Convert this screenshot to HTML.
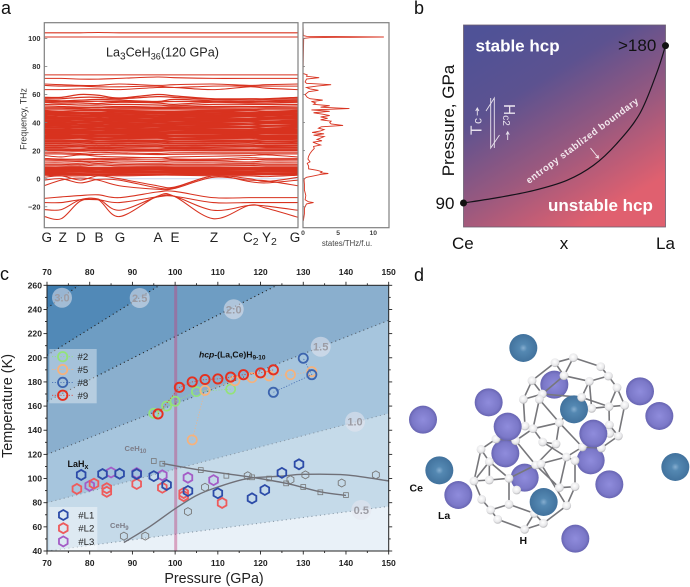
<!DOCTYPE html>
<html lang="en">
<head>
<meta charset="utf-8">
<title>La3CeH36 phonons, hcp stability and Tc figure</title>
<style>
html,body{margin:0;padding:0;background:#fff}
svg{display:block;font-family:"Liberation Sans",sans-serif}
</style>
</head>
<body>
<svg id="fig" xmlns="http://www.w3.org/2000/svg" width="690" height="587" viewBox="0 0 690 587">
<defs>
<linearGradient id="phase" gradientUnits="userSpaceOnUse" x1="495" y1="25" x2="618" y2="227">
<stop offset="0" stop-color="#4f5297"/>
<stop offset="0.3" stop-color="#5c5290"/>
<stop offset="0.62" stop-color="#9c597e"/>
<stop offset="0.92" stop-color="#e0606f"/>
</linearGradient>
<radialGradient id="la" cx="50%" cy="50%" r="55%">
<stop offset="0" stop-color="#8f8cdc"/><stop offset="0.7" stop-color="#7b78c8"/><stop offset="1" stop-color="#5f5ca8"/>
</radialGradient>
<radialGradient id="ce" cx="50%" cy="50%" r="55%">
<stop offset="0" stop-color="#86aed0"/><stop offset="0.25" stop-color="#5488b2"/><stop offset="1" stop-color="#3f6f9a"/>
</radialGradient>
<radialGradient id="h" cx="45%" cy="40%" r="60%">
<stop offset="0" stop-color="#ffffff"/><stop offset="0.7" stop-color="#e8e8ea"/><stop offset="1" stop-color="#b5b5b8"/>
</radialGradient>
<clipPath id="clipC"><rect x="47" y="285.3" width="341.7" height="265.7"/></clipPath>
<clipPath id="clipA"><rect x="44" y="22.7" width="254" height="205"/></clipPath>
<clipPath id="clipDos"><rect x="303" y="22.7" width="86" height="205"/></clipPath>
</defs>

<g font-size="18" fill="#111">
<text x="1" y="14">a</text>
<text x="414" y="14">b</text>
<text x="0" y="280">c</text>
<text x="414" y="281">d</text>
</g>

<g id="panelA">
<rect x="44" y="22.7" width="254" height="205" fill="#fff"/>
<g id="bandsG" clip-path="url(#clipA)" fill="none" stroke="#d8321f" stroke-width="1.1"></g>
<rect x="44.3" y="22.7" width="253.7" height="205" fill="none" stroke="#808080" stroke-width="1.2"/>
<g id="dosG" clip-path="url(#clipDos)"></g>
<rect x="303" y="22.7" width="86" height="205" fill="none" stroke="#808080" stroke-width="1.2"/>
<g id="ticksA"></g>
<text x="106" y="56.5" font-size="12.6" fill="#222">La<tspan dy="3" font-size="10">3</tspan><tspan dy="-3">CeH</tspan><tspan dy="3" font-size="9">36</tspan><tspan dy="-3">(120 GPa)</tspan></text>
<text transform="translate(26.5,119) rotate(-90)" text-anchor="middle" font-size="8.8" fill="#333">Frequency, THz</text>
<text x="347" y="246" text-anchor="middle" font-size="7.8" fill="#444">states/THz/f.u.</text>
</g>

<g id="panelB">
<rect x="463.5" y="25" width="202" height="202" fill="url(#phase)" stroke="#6b5f70" stroke-width="0.8"/>
<g id="boundaryG"></g>
<text x="475.5" y="51.5" font-size="17" font-weight="bold" fill="#fff">stable hcp</text>
<text x="548" y="211" font-size="17" font-weight="bold" fill="#fff">unstable hcp</text>
<text x="618" y="51" font-size="17" fill="#111">&gt;180</text>
<text x="435.5" y="209" font-size="17" fill="#111">90</text>
<text x="452" y="249" font-size="17" fill="#111">Ce</text>
<text x="564" y="249" font-size="17" text-anchor="middle" fill="#111">x</text>
<text x="656" y="249" font-size="17" fill="#111">La</text>
<text transform="translate(454,120.5) rotate(-90)" text-anchor="middle" font-size="17" fill="#111">Pressure, GPa</text>
<text transform="translate(481.5,135) rotate(-90)" font-size="15.5" fill="#e9e3ee">T<tspan font-size="12" dx="1.5">c</tspan></text>
<text transform="translate(504,104) rotate(90)" font-size="15.5" fill="#e9e3ee">H<tspan font-size="10" dy="1">c2</tspan></text>
<g fill="none" stroke="#e9e3ee" stroke-width="0.9">
<path d="M494.3 148V98L486 111"/>
<path d="M490.7 98V148L499.5 135"/>
<path d="M477.3 115.5V108M475.7 111L477.3 108L478.9 111"/>
<path d="M507.7 140V131.7M506.1 134.7L507.7 131.7L509.3 134.7"/>
</g>
<text transform="translate(529,184) rotate(-36.5)" font-size="9.5" font-weight="bold" fill="#f4e9ee" textLength="137">entropy stablized boundary</text>
<path d="M590.5 148L598.5 158M595.5 157.2L598.5 158L598 155" fill="none" stroke="#f4e9ee" stroke-width="0.9"/>
</g>

<g id="panelC">
<g id="regionsG" clip-path="url(#clipC)"></g>
<rect x="174.2" y="285.3" width="3" height="265.7" fill="#c0447f" opacity="0.45"/>
<g id="pointsG"></g>
<g id="discsG"></g>
<g id="axesC"></g>
<text x="199" y="357.5" font-size="8.6" font-weight="bold" fill="#111"><tspan font-style="italic">hcp</tspan>-(La,Ce)H<tspan dy="2" font-size="6.5">9-10</tspan></text>
<text x="67.5" y="467" font-size="9" font-weight="bold" fill="#111">LaH<tspan dy="2" font-size="7">x</tspan></text>
<text x="124.5" y="451" font-size="7.6" font-weight="bold" fill="#7d7d88">CeH<tspan dy="2" font-size="6">10</tspan></text>
<text x="110" y="528" font-size="7.6" font-weight="bold" fill="#7d7d88">CeH<tspan dy="2" font-size="6">9</tspan></text>
<g id="legendC"></g>
<text transform="translate(12,406) rotate(-90)" text-anchor="middle" font-size="14.4" fill="#222">Temperature (K)</text>
<text x="214" y="583" text-anchor="middle" font-size="14.3" fill="#222">Pressure (GPa)</text>
</g>

<g id="panelD"></g>
<text x="409.5" y="491.5" font-size="10.5" font-weight="bold" fill="#111">Ce</text>
<text x="438" y="519" font-size="10.5" font-weight="bold" fill="#111">La</text>
<text x="519.5" y="544" font-size="10.5" font-weight="bold" fill="#111">H</text>
</svg>

<script>
/* ---------- Panel a data ---------- */
var kPath = [0, 17, 36, 54, 75, 113, 130, 169, 205, 222, 254];
var kLabels = ['G','Z','D','B','G','A','E','Z','C','Y','G'];
var freqTicks = [-20, 0, 20, 40, 60, 80, 100];
var dosTicks = [0, 5, 10];
var zeroLine = [0, 0];
var bandSeries = [
[104,104,104,104.2,104,104,104,104,104,104,104],
[101,101,101,101,101,101,101,101,101,101,101],
[74,74,74,74,74,74,74,74,74,74,74],
[71.5,71.5,71,71,71.5,72.5,72,71.5,71.5,71.5,71.5],
[67.5,67,66.5,66.5,67.5,66.5,67,67.5,66.5,67,67.5],
[66.5,66,66,65.5,65.5,66,65,66,66,66,66],
[63.5,63.5,64,64,63.5,65,65,63.5,65.5,64.5,63.5],
[58,58,60,59.5,57.5,60,59,57,57,57,58],
[57,57,58,58,57,58.5,58,56.5,56,56.5,57],
[56,55.5,56,56.5,56,55,56.5,55.5,55,55.5,56],
[55.2,55,55,55.2,55,54.8,55,55,54.8,55,55.2],
[54.5,54,54,53.5,54.5,54,53,54.5,54,54,54.5],
[53,53,52.5,52.5,53,52.5,52,53,53,53,53],
[51.8,51.5,51,51,51.5,51,51,51.5,51.5,51.5,51.8],
[50.6,50.6,50.4,50.5,50.6,50.5,50.5,50.6,50.4,50.6,50.6],
[49.6,49.6,49.6,49.3,49.6,49.6,49.6,49.6,49.3,49.6,49.6],
[48.5,48,48.5,48.5,48.5,48,48,48.5,48.5,48,48.5],
[47.5,47,47,47,47.5,47,47,47.5,47,47,47.5],
[46.5,46,46.2,46,46.5,46.2,46,46.5,46,46,46.5],
[45.5,45.2,45,45,45.5,45,45.2,45.5,45,45.2,45.5],
[44.5,44,44,44.2,44.5,44,44.2,44.5,44.5,44,44.5],
[43.5,43.5,43,43,43.5,43.2,43,43.5,43,43,43.5],
[42.5,42.5,42.2,42,42.5,42,42.2,42.5,42,42.5,42.5],
[41.5,41.5,41,41.2,41.5,41,41.2,41.5,41.5,41,41.5],
[40.5,40.5,40.2,40,40.5,40.2,40,40.5,40.5,40,40.5],
[39.5,39.5,39,39.2,39.5,39,39,39.5,39,39.5,39.5],
[38.5,38.5,38.2,38,38.5,38,38.2,38.5,38.5,38,38.5],
[37.5,37.5,37,37.2,37.5,37.2,37,37.5,37,37.5,37.5],
[36.5,36.5,36.2,36,36.5,36,36,36.5,36.5,36,36.5],
[35.3,35.3,35,35.2,35.3,35,35.2,35.3,35,35.3,35.3],
[34.2,34.2,34,34,34.2,34.2,34,34.2,34,34.2,34.2],
[33.2,33,33.2,33,33.2,33,33,33.2,33.2,33,33.2],
[32.2,32,32,32.2,32.2,32,32.2,32.2,32,32.2,32.2],
[31,31,30.8,31,31,31,30.8,31,31,30.8,31],
[30,30,29.8,29.8,30,29.8,30,30,29.8,30,30],
[28.8,28.8,29,28.6,28.8,29,28.6,28.8,29,28.8,28.8],
[27.6,27.6,27.4,27.8,27.6,27.4,27.8,27.6,27.4,27.8,27.6],
[26.5,26.5,26.8,26.3,26.5,26.8,26.3,26.5,26.8,26.3,26.5],
[25.2,25.2,25.5,25,25.2,25.5,25,25.2,25.5,25,25.2],
[23.8,23.8,24,23.6,23.8,24,23.6,23.8,24,23.6,23.8],
[22.5,22.5,22.8,22.2,22.5,22.8,22.2,22.5,22.8,22.5,22.5],
[21.2,21.2,21,21.5,21.2,21,21.5,21.2,21,21.2,21.2],
[20,20,19.8,20.2,20,19.8,20.2,20,20,20,20],
[18.5,18.5,18,18.8,18.5,18,18.5,18.5,18.5,18.5,18.5],
[17.6,17.6,17.2,17.4,17.6,17.2,17.4,17.6,17.8,17.6,17.6],
[16.5,15.5,17,16,15.5,15,15.5,16,16.5,17,15.5],
[14.5,14,14,14.5,14.5,15,14,14,15,14.5,14.5],
[13.6,13.4,13.2,13.8,13.6,13.4,13.4,13.2,13.8,13.6,13.6],
[12.6,12.6,12.2,12.6,12.6,12.2,12.6,12.6,12,12.6,12.6],
[11.3,11.3,11,12,11.3,11,11.3,11.3,11,11.3,11.3],
[10.2,10.2,10,10.8,10.2,10,10.2,10.2,10.4,10.2,10.2],
[9.2,9.2,9,9.8,9.2,9,9.2,9.2,9.4,9.2,9.2],
[8,8,8,8,8,8,8,8,8,8,8],
[7,7,7.2,7,7,7,7.2,7,7,7.2,7],
[6,6,6,6.2,6,6.2,6,6,6.2,6,6],
[5,5,5.2,5,5,5,5,5,5,5.2,5],
[4,4,4,4.2,4,4.2,4,4,4,4,4],
[3,3,3,3,3,3,3,3,3,3,3],
[2.5,2,2,2.5,2,2.5,2.5,2,2,1.5,2.5],
[1,2,-1,2,0,-5,-6,2,0,-2,1],
[-1,0,-3,-0.5,-1,-6.5,-6.5,2,-2,-3,-1],
[-5,-1,0.5,-1,-5,-7.5,-7,1,-1,-1.5,-5],
[-14,-13,-12,-11.5,-13.5,-9.5,-9,-13.5,-13.5,-13.5,-13.5],
[-17,-17,-15,-15,-17,-13,-12.5,-17,-17,-17,-17],
[-22,-22,-15,-14.5,-22.5,-13,-12.5,-22.5,-19,-19.5,-22.5],
[-27,-28.5,-16,-15,-27,-12.5,-12.5,-28.5,-19,-21,-27.5]
];
var dosFreq = [-30,-25,-21,-18,-17,-16.5,-15,-12,-8,-4,-1,0,1,2,3,3.7,4.2,5,6,7,9,11,12,14,16,18,20,21.5,23,24,26,27,28,30,31,32,33,34,35,36,37,38,39,40,41,42,43,44,45,46,47,48,49,50,51,52,53,54,55,56,57,58,60,62,63,64,65,66,67,68,69,71,72,73,74,75,100,100.5,101,101.5,102,110];
var dosValues = [0.05,0.2,0.2,0.5,1.5,0.8,0.3,0.4,0.2,0.2,0.15,0.2,0.5,1.5,2.5,3.6,2.5,2.7,2,0.8,0.8,0.6,1,0.7,0.8,1,1.3,1.6,1.5,2.5,1.4,2.7,2,3,1.5,3,1.3,2.5,3,2.2,2.6,5.7,4,3.8,4,2.5,3.5,2.5,3.8,2.8,1.5,3.8,1.2,6.6,2.5,3.8,1.5,1.8,1.2,2.8,1,0.6,0.3,0.8,2.2,1,0.5,2,4,0.5,0.3,0.5,2.3,0.5,0.6,0,0.1,1,11.5,0.5,0.05,0];

/* ---------- Panel b data ---------- */
var boundaryX = [0,0.18,0.346,0.511,0.643,0.758,0.873,0.956,1];
var boundaryP = [90,93.3,97.1,102.9,111.5,123.9,141.2,164.2,180];

/* ---------- Panel c data ---------- */
var pressureTicks = [70,80,90,100,110,120,130,140,150];
var temperatureTicks = [40,60,80,100,120,140,160,180,200,220,240,260];
var lambdaNames = ['0.5','1.0','1.5','2:0','2.5','3.0'];
var lambdaTAt70 = [40,80,120,164,202,241];
var lambdaTAt150 = [77,154,231,306.6,378,445];
var series2P = [95,98,100,105,113];
var series2T = [154,160,164,172,174];
var series5P = [104,107,114,118,122,127,132];
var series5T = [132,173,181,183.5,185,186,188.5];
var series8P = [123,132,130];
var series8T = [171.4,186,199.6];
var series9P = [96,101,104,107,110,113,116,120,123];
var series9T = [153.5,175.5,180,182,182.5,184,186,187.5,190];
var seriesL1P = [78,83,87,91,95,98,103,110,118,121,125,129];
var seriesL1T = [103,103.7,104,103.7,102,94.7,89.7,87.8,83.6,90.5,104.7,111.8];
var seriesL2P = [77,81,84,84,91,97,102,102,111];
var seriesL2T = [91.4,95.8,92,89,95.5,92.4,85.5,88,79.8];
var seriesL3P = [80,85,91,97,103,109];
var seriesL3T = [94,105,104.5,102.7,100.7,98.7];
var ceHexP = [88,93,103,107,117,127,130.5,139,147];
var ceHexT = [52.3,52.3,72.6,92.8,102.3,99,103,96.3,103];
var ceSquareP = [95,97,106,112,118,122,126,130,134,140];
var ceSquareT = [114.5,112.3,107,102.3,101,100,96,93,88.6,86.3];
var ceh10TrendP = [97,106,118,126,134,140];
var ceh10TrendT = [112.5,107,101,96,89,86];
var ceh9TrendP = [88,94,100,105,110,117,125,130,140,150];
var ceh9TrendT = [47,60,75,86,93,100,102,103.5,103,98];

/* ---------- Panel d data (structure sketch, in crop units) ---------- */
var ceAtoms = [[370,249],[522,433],[118,616],[431,711],[826,606]];
var laBack = [[463,359],[316,565],[572,586],[374,638]];
var laFront = [[266,412],[69,464],[323,485],[580,506],[628,658],[175,690],[526,821],[720,379],[778,453]];
var hAtoms = [[520,278],[465,293],[602,305],[492,332],[625,333],[396,347],[568,349],[651,368],[427,387],[545,397],[370,403],[418,403],[627,425],[674,421],[575,430],[478,473],[399,491],[375,483],[628,480],[655,513],[629,505],[288,522],[428,531],[468,537],[347,527],[547,546],[604,549],[243,553],[499,576],[268,590],[525,587],[407,600],[423,597],[222,648],[268,645],[327,640],[478,668],[525,665],[245,703],[327,718],[500,722],[272,735],[293,763],[374,793],[430,775],[403,745],[350,675]];
var frontH = [[545,397]];
var bonds = [[1,0],[0,2],[2,4],[4,7],[7,13],[1,5],[1,3],[0,3],[3,6],[6,4],[6,9],[5,10],[5,8],[8,3],[10,17],[11,16],[11,15],[8,9],[7,12],[6,14],[14,12],[12,13],[13,19],[12,18],[9,12],[15,9],[15,23],[15,25],[17,16],[16,22],[16,15],[22,23],[22,28],[23,31],[24,31],[21,24],[27,21],[27,29],[27,33],[29,35],[29,34],[29,33],[33,38],[33,34],[34,35],[35,39],[38,41],[41,39],[41,42],[42,43],[43,44],[44,40],[39,45],[45,44],[45,43],[31,36],[32,40],[36,37],[37,40],[36,28],[28,30],[30,37],[28,25],[25,26],[26,19],[19,18],[18,25],[31,35],[31,28],[10,8],[16,24]];

/* ---------- helpers ---------- */
var NS = 'http://www.w3.org/2000/svg';
function mk(tag, parent, attrs, txt) {
  var e = document.createElementNS(NS, tag);
  for (var k in attrs) e.setAttribute(k, attrs[k]);
  if (txt !== undefined) e.textContent = txt;
  parent.appendChild(e);
  return e;
}
function smooth(p) {
  var d = 'M' + p[0][0].toFixed(2) + ' ' + p[0][1].toFixed(2);
  for (var i = 0; i < p.length - 1; i++) {
    var a = p[Math.max(i - 1, 0)], b = p[i], c = p[i + 1], e = p[Math.min(i + 2, p.length - 1)];
    d += 'C' + (b[0] + (c[0] - a[0]) / 6).toFixed(2) + ' ' + (b[1] + (c[1] - a[1]) / 6).toFixed(2) + ' ' +
         (c[0] - (e[0] - b[0]) / 6).toFixed(2) + ' ' + (c[1] - (e[1] - b[1]) / 6).toFixed(2) + ' ' +
         c[0].toFixed(2) + ' ' + c[1].toFixed(2);
  }
  return d;
}
var el;

/* ---------- Panel a ---------- */
function xK(k) { return 44.3 + k * 253.7 / 254; }
function yF(f) { return 178.7 - f * 1.403; }
function xD(v) { return 303 + v * 7.03; }
function bandWidth(f) {
  if (f >= 20 && f < 49) return 1.75;
  if (f >= 3 && f < 8.5) return 1.7;
  if (f >= 49 && f < 59) return 1.25;
  return 1.05;
}
var bandsG = document.getElementById('bandsG');
el = mk('path', bandsG, {d: 'M' + xK(0) + ' ' + yF(zeroLine[0]) + 'L' + xK(254) + ' ' + yF(zeroLine[1]), stroke: '#c8d6ee', 'stroke-width': 1});


bandSeries.forEach(function (b) {
  var pts = b.map(function (f, i) { return [xK(kPath[i]), yF(f)]; });
  var line = mk('path', bandsG, {d: smooth(pts), 'stroke-width': bandWidth(b[0])});
  
  
});
var dosPts = dosFreq.map(function (f, i) { return xD(dosValues[i]).toFixed(2) + ',' + yF(f).toFixed(2); }).join(' ');
el = mk('polyline', document.getElementById('dosG'), {points: dosPts, fill: 'none', stroke: '#d8321f', 'stroke-width': 0.9});


var ticksA = document.getElementById('ticksA');
freqTicks.forEach(function (t) {
  var m = mk('line', ticksA, {x1: 44.3, x2: 47.3, y1: yF(t), y2: yF(t), stroke: '#808080', 'stroke-width': 0.8});
  
  
  var l = mk('text', ticksA, {x: 40.5, y: yF(t) + 2.7, 'text-anchor': 'end', 'font-size': 7.4, fill: '#333', 'font-weight': 'bold'}, t === 0 ? '0' : (t < 0 ? '\u2212' + (-t) : String(t)));
  
  
  var m2 = mk('line', ticksA, {x1: 303, x2: 305, y1: yF(t), y2: yF(t), stroke: '#808080', 'stroke-width': 0.8});
  
  
});
dosTicks.forEach(function (t) {
  var l = mk('text', ticksA, {x: xD(t), y: 235, 'text-anchor': 'middle', 'font-size': 6.8, fill: '#444', 'font-weight': 'bold'}, String(t));
  
  
});
var kLabelCentre = [46.7, 62.7, 81, 99, 120, 158, 175, 214, 243, 262, 295];
kLabels.forEach(function (s, i) {
  var l = mk('text', ticksA, {x: kLabelCentre[i], y: 242, 'text-anchor': (s === 'C' || s === 'Y') ? 'start' : 'middle', 'font-size': 13.5, fill: '#222'}, s);
  
  
  if (s === 'C' || s === 'Y') {
    var sub = mk('tspan', l, {dy: 3, 'font-size': 10.5}, '2');
    
    
  }
});

/* ---------- Panel b ---------- */
function xB(v) { return 463.5 + v * 202; }
function yB(p) { return 203 - (p - 90) * 1.748; }
var boundaryG = document.getElementById('boundaryG');
el = mk('path', boundaryG, {d: smooth(boundaryX.map(function (x, i) { return [xB(x), yB(boundaryP[i])]; })), fill: 'none', stroke: '#15121a', 'stroke-width': 1.2});


el = mk('circle', boundaryG, {cx: xB(boundaryX[0]), cy: yB(boundaryP[0]), r: 3.5, fill: '#111'});


el = mk('circle', boundaryG, {cx: xB(boundaryX[boundaryX.length - 1]), cy: yB(boundaryP[boundaryP.length - 1]), r: 3.5, fill: '#111'});



/* ---------- Panel c ---------- */
function xC(p) { return 47 + (p - 70) * 4.271; }
function yC(t) { return 551 - (t - 40) * 1.2077; }
var regionsG = document.getElementById('regionsG');
var regionColors = ['#e9f1f8', '#c5dae9', '#a6c5dd', '#8aafce', '#6e9dc3', '#5189b7', '#3c7bae'];
el = mk('rect', regionsG, {x: 47, y: 285.3, width: 341.7, height: 265.7, fill: regionColors[6]});


for (var li = lambdaNames.length - 1; li >= 0; li--) {
  el = mk('polygon', regionsG, {points: xC(70) + ',' + yC(lambdaTAt70[li]) + ' ' + xC(150) + ',' + yC(lambdaTAt150[li]) + ' ' + xC(150) + ',551 ' + xC(70) + ',551', fill: regionColors[li]});
  
  
}
lambdaNames.forEach(function (n, i) {
  var l = mk('line', regionsG, {x1: xC(70), y1: yC(lambdaTAt70[i]), x2: xC(150), y2: yC(lambdaTAt150[i]), stroke: i < 2 ? '#8a9aa8' : (i < 3 ? '#55606c' : '#222'), 'stroke-width': 1.1, 'stroke-dasharray': '1.1 3.2'});
  
  
});

var pts = document.getElementById('pointsG');
function trend(px, ty) {
  return smooth(px.map(function (p, i) { return [xC(p), yC(ty[i])]; }));
}
el = mk('path', pts, {d: trend(ceh10TrendP, ceh10TrendT), fill: 'none', stroke: '#707078', 'stroke-width': 1.4});


el = mk('path', pts, {d: trend(ceh9TrendP, ceh9TrendT), fill: 'none', stroke: '#707078', 'stroke-width': 1.4});



function hexPts(cx, cy, r) {
  var s = [];
  for (var i = 0; i < 6; i++) {
    var a = Math.PI / 3 * i + Math.PI / 6;
    s.push((cx + r * Math.cos(a)).toFixed(2) + ',' + (cy + r * Math.sin(a)).toFixed(2));
  }
  return s.join(' ');
}
function circleSeries(px, ty, color, width) {
  var link = mk('polyline', pts, {points: px.map(function (p, i) { return xC(p).toFixed(2) + ',' + yC(ty[i]).toFixed(2); }).join(' '), fill: 'none', stroke: color, 'stroke-width': 0.8, 'stroke-dasharray': '1.2 1.6', opacity: 0.9});
  
  
  px.forEach(function (p, i) {
    var c = mk('circle', pts, {cx: xC(p), cy: yC(ty[i]), r: 4.6, fill: 'none', stroke: color, 'stroke-width': width});
    
    
  });
}
function hexSeries(px, ty, color, width, r) {
  px.forEach(function (p, i) {
    var h = mk('polygon', pts, {points: hexPts(xC(p), yC(ty[i]), r), fill: 'none', stroke: color, 'stroke-width': width});
    
    
  });
}
ceSquareP.forEach(function (p, i) {
  var s = mk('rect', pts, {x: xC(p) - 2.4, y: yC(ceSquareT[i]) - 2.4, width: 4.8, height: 4.8, fill: 'none', stroke: '#777', 'stroke-width': 0.8});
  
  
});
hexSeries(ceHexP, ceHexT, '#777', 0.9, 4);
hexSeries(seriesL3P, seriesL3T, '#a45cc6', 1.8, 5);
hexSeries(seriesL2P, seriesL2T, '#ee5b5c', 1.8, 5);
hexSeries(seriesL1P, seriesL1T, '#2c4ba8', 1.8, 5);
circleSeries(series2P, series2T, '#94e27a', 1.7);
circleSeries(series5P, series5T, '#f6b27c', 1.7);
circleSeries(series8P, series8T, '#3c64ae', 1.8);
circleSeries(series9P, series9T, '#e5301f', 1.9);

var discCx = [361.3, 355, 320.7, 233.7, 139.7, 62];
var discCy = [510, 421.7, 346.7, 309.3, 298, 297.7];
var discsG = document.getElementById('discsG');
lambdaNames.forEach(function (n, i) {
  var d = mk('circle', discsG, {cx: discCx[i], cy: discCy[i], r: 10, fill: '#e6e6ee', opacity: 0.55});
  
  
  var t = mk('text', discsG, {x: discCx[i], y: discCy[i] + 4, 'text-anchor': 'middle', 'font-size': 11, 'font-weight': 'bold', fill: '#9c9ca4'}, n);
  
  
});

var axesC = document.getElementById('axesC');
el = mk('rect', axesC, {x: 47, y: 285.3, width: 341.7, height: 265.7, fill: 'none', stroke: '#222', 'stroke-width': 1});


function tickLine(x1, y1, x2, y2) {
  var t = mk('line', axesC, {x1: x1, y1: y1, x2: x2, y2: y2, stroke: '#222', 'stroke-width': 0.9});
  
  
}
for (var p = 70; p <= 150; p += 5) {
  var mj = p % 10 === 0 ? 3.5 : 2;
  tickLine(xC(p), 551, xC(p), 551 + mj);
  tickLine(xC(p), 285.3, xC(p), 285.3 - mj);
}
for (var T = 40; T <= 260; T += 10) {
  var mjy = T % 20 === 0 ? 3.5 : 2;
  tickLine(47, yC(T), 47 - mjy, yC(T));
  tickLine(388.7, yC(T), 388.7 + mjy, yC(T));
}
pressureTicks.forEach(function (t) {
  var a = mk('text', axesC, {x: xC(t), y: 275, 'text-anchor': 'middle', 'font-size': 8.6, 'font-weight': 'bold', fill: '#222'}, String(t));
  
  
  var b = mk('text', axesC, {x: xC(t), y: 566, 'text-anchor': 'middle', 'font-size': 8.6, 'font-weight': 'bold', fill: '#222'}, String(t));
  
  
});
temperatureTicks.forEach(function (t) {
  var a = mk('text', axesC, {x: 42, y: yC(t) + 3, 'text-anchor': 'end', 'font-size': 8.6, 'font-weight': 'bold', fill: '#222'}, String(t));
  
  
});

var legendC = document.getElementById('legendC');
el = mk('rect', legendC, {x: 49.3, y: 349, width: 47.4, height: 54.3, fill: '#fff', opacity: 0.38});


el = mk('rect', legendC, {x: 49.3, y: 507, width: 48, height: 43, fill: '#fff', opacity: 0.42});


var legendCircleNames = ['#2', '#5', '#8', '#9'];
var legendCircleColors = ['#94e27a', '#f6b27c', '#3c64ae', '#e5301f'];
legendCircleNames.forEach(function (n, i) {
  var y = 356.7 + i * 12.85;
  var l = mk('line', legendC, {x1: 52, x2: 73, y1: y, y2: y, stroke: legendCircleColors[i], 'stroke-width': 0.8, 'stroke-dasharray': '1.2 1.6'});
  
  
  var c = mk('circle', legendC, {cx: 62.7, cy: y, r: 4.7, fill: 'none', stroke: legendCircleColors[i], 'stroke-width': 1.8});
  
  
  var t = mk('text', legendC, {x: 77.5, y: y + 3.5, 'font-size': 9.6, fill: '#222'}, n);
  
  
});
var legendHexNames = ['#L1', '#L2', '#L3'];
var legendHexColors = ['#2c4ba8', '#ee5b5c', '#a45cc6'];
legendHexNames.forEach(function (n, i) {
  var y = 515 + i * 13.2;
  var c = mk('polygon', legendC, {points: hexPts(63.3, y, 5), fill: 'none', stroke: legendHexColors[i], 'stroke-width': 1.8});
  
  
  var t = mk('text', legendC, {x: 78.3, y: y + 3.5, 'font-size': 9.6, fill: '#222'}, n);
  
  
});

/* ---------- Panel d ---------- */
var panelD = document.getElementById('panelD');
function dx(v) { return 400 + v / 3; }
function dy(v) { return 265 + v / 3; }
function sphere(a, fill, name, r) {
  var s = mk('circle', panelD, {cx: dx(a[0]), cy: dy(a[1]), r: r, fill: fill});
  
  
}
laBack.forEach(function (a) { sphere(a, 'url(#la)', 'la-atom', 14); });
bonds.forEach(function (b) {
  var A = hAtoms[b[0]], B = hAtoms[b[1]];
  var l = mk('line', panelD, {x1: dx(A[0]), y1: dy(A[1]), x2: dx(B[0]), y2: dy(B[1]), stroke: '#77777b', 'stroke-width': 1.6});
  
  
});
hAtoms.forEach(function (a) { sphere(a, 'url(#h)', 'h-atom', 4.4); });
ceAtoms.forEach(function (a) { sphere(a, 'url(#ce)', 'ce-atom', 14); });
laFront.forEach(function (a) { sphere(a, 'url(#la)', 'la-atom', 14); });
frontH.forEach(function (a) { sphere(a, 'url(#h)', 'h-atom', 4.4); });
</script>
</body>
</html>
